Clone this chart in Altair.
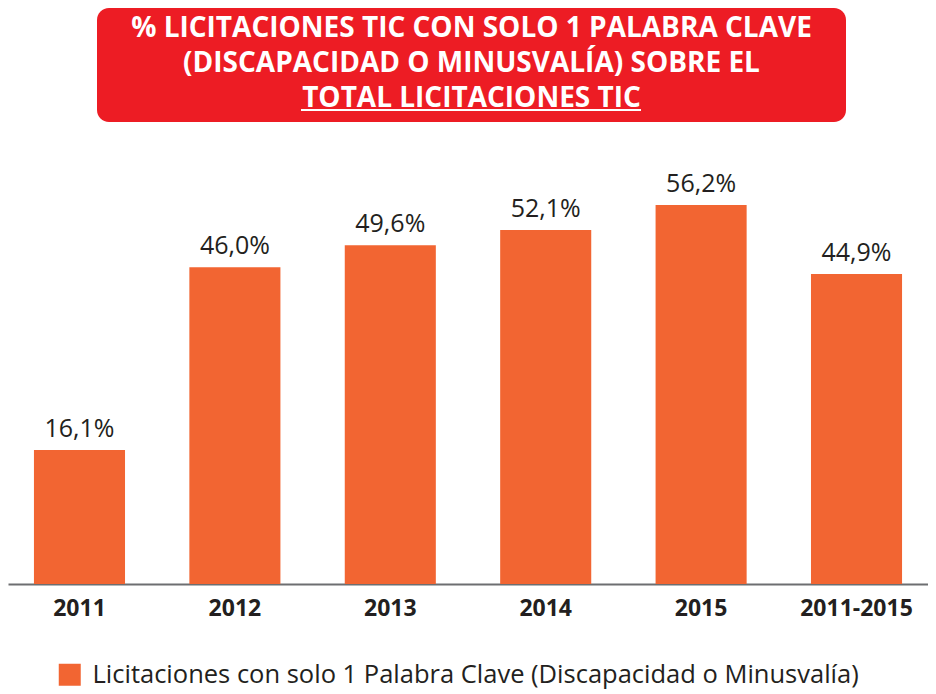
import altair as alt
import pandas as pd

categorias = ["2011", "2012", "2013", "2014", "2015", "2011-2015"]
valores = [16.1, 46.0, 49.6, 52.1, 56.2, 44.9]
serie = "Licitaciones con solo 1 Palabra Clave (Discapacidad o Minusvalía)"
titulo = [
    "% LICITACIONES TIC CON SOLO 1 PALABRA CLAVE",
    "(DISCAPACIDAD O MINUSVALÍA) SOBRE EL",
    "TOTAL LICITACIONES TIC",
]
BASE = -5.83
TOP = 67.33

ORANGE = "#f26532"
RED = "#ed1c24"
DARK = "#231f20"
FONT = "Open Sans"

df = pd.DataFrame({
    "cat": categorias,
    "val": valores,
    "label": [f"{v:.1f}".replace(".", ",") + "%" for v in valores],
    "serie": [serie] * len(valores),
})

xenc = alt.X("cat:N", sort=categorias, title=None,
             scale=alt.Scale(paddingInner=0.414, paddingOuter=0.167),
             axis=alt.Axis(labelAngle=0, labelFont=FONT, labelFontSize=23,
                           labelFontWeight="bold", labelColor=DARK, ticks=False,
                           labelPadding=13, domainColor="#6d6e71", domainWidth=2))
yscale = alt.Scale(domain=[BASE, TOP], nice=False, zero=False)

bars = alt.Chart(df).mark_bar(color=ORANGE).encode(
    x=xenc,
    y=alt.Y("val:Q", scale=yscale, axis=None),
    y2=alt.datum(BASE),
    color=alt.Color("serie:N", scale=alt.Scale(range=[ORANGE]),
                    legend=alt.Legend(title=None, orient="none", legendX=49, legendY=525,
                                      symbolType="square", symbolSize=484,
                                      symbolStrokeWidth=0, labelFont=FONT,
                                      labelFontSize=25.5, labelColor=DARK,
                                      labelLimit=0, labelOffset=10, padding=0)),
)

labels = alt.Chart(df).mark_text(font=FONT, fontSize=25, color=DARK,
                                 baseline="alphabetic", dy=-13).encode(
    x=alt.X("cat:N", sort=categorias),
    y=alt.Y("val:Q", scale=yscale, axis=None),
    text="label:N",
)

one = pd.DataFrame({"k": [0]})
box = alt.Chart(one).mark_rect(color=RED, cornerRadius=12).encode(
    x=alt.value(89), x2=alt.value(838), y=alt.value(-129), y2=alt.value(-15)
)

ttext = alt.Chart(one).mark_text(text=titulo, font=FONT, fontSize=28, fontWeight="bold",
                                 color="white", baseline="alphabetic",
                                 lineHeight=35).encode(
    x=alt.value(463.5),
    y=alt.value(-100),
)

underline = alt.Chart(one).mark_rule(color="white", strokeWidth=2).encode(
    x=alt.value(293), x2=alt.value(633), y=alt.value(-27)
)

chart = alt.layer(box, ttext, underline, bars, labels).properties(
    width=920, height=447, autosize="none",
    padding={"left": 0, "top": 129, "right": 0, "bottom": 105},
).configure_view(stroke=None)

chart.save("out.html", embed_options={"renderer": "svg", "actions": False})
